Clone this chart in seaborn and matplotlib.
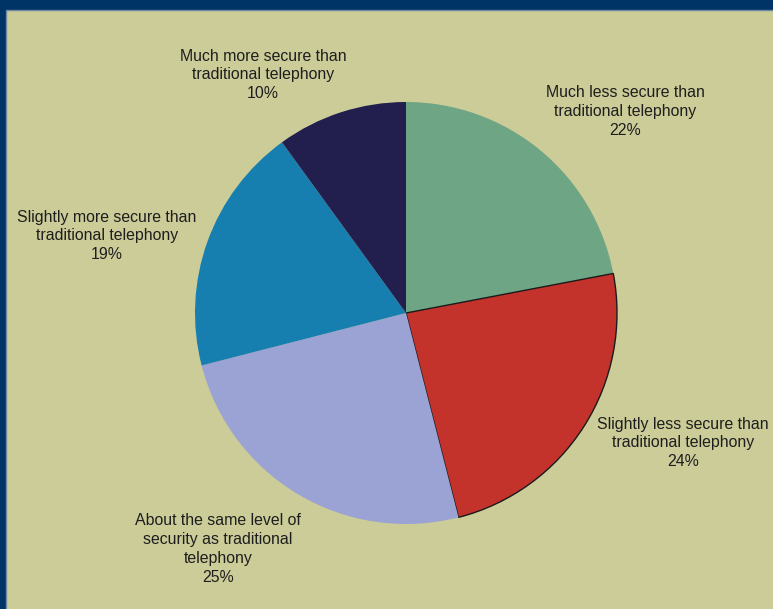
import matplotlib
matplotlib.use("Agg")
import matplotlib.pyplot as plt
from matplotlib.patches import Rectangle
import seaborn as sns

# Survey answers, clockwise from 12 o'clock
categories = [
    "Much less secure than\ntraditional telephony",
    "Slightly less secure than\ntraditional telephony",
    "About the same level of\nsecurity as traditional\ntelephony",
    "Slightly more secure than\ntraditional telephony",
    "Much more secure than\ntraditional telephony",
]
shares = [22, 24, 25, 19, 10]
slice_colors = ["#6EA585", "#C4322C", "#9BA3D4", "#177FAF", "#221E4E"]

# Label anchor points, in units of the pie radius from its centre
label_offsets = [(1.038, 0.953), (1.313, -0.616), (-0.891, -1.118),
                 (-1.417, 0.365), (-0.678, 1.128)]

sns.set_theme(style="white")
plt.rcParams["font.family"] = ["Liberation Sans", "DejaVu Sans"]

W, H = 773, 609
fig = plt.figure(figsize=(W / 100, H / 100), dpi=100, facecolor="#003366")
ax = fig.add_axes([0, 0, 1, 1])
ax.set_facecolor("none")

# Beige panel under the dark-blue frame
ax.add_patch(Rectangle((5.5, -5), W, H - 9.5 + 5, facecolor="#CCCC99",
                       edgecolor="#6F85A0", linewidth=1.0, zorder=0))

cx, cy, r = 406, H - 313, 211
palette = sns.color_palette(slice_colors)
wedges, _ = ax.pie(shares, colors=palette, startangle=90, counterclock=False,
                   center=(cx, cy), radius=r, frame=True,
                   wedgeprops=dict(linewidth=0))

# The second slice is outlined
wedges[1].set_edgecolor("#1a1a1a")
wedges[1].set_linewidth(1.0)

for cat, val, (dx, dy) in zip(categories, shares, label_offsets):
    ax.text(cx + dx * r, cy + dy * r, f"{cat}\n{val}%", ha="center",
            va="center", fontsize=11.4, color="#1e1e1e", linespacing=1.33)

ax.set_xlim(0, W)
ax.set_ylim(0, H)
ax.set_aspect("equal")
ax.set_xticks([])
ax.set_yticks([])
sns.despine(ax=ax, left=True, bottom=True)

fig.savefig("out.png", dpi=100, facecolor=fig.get_facecolor())
